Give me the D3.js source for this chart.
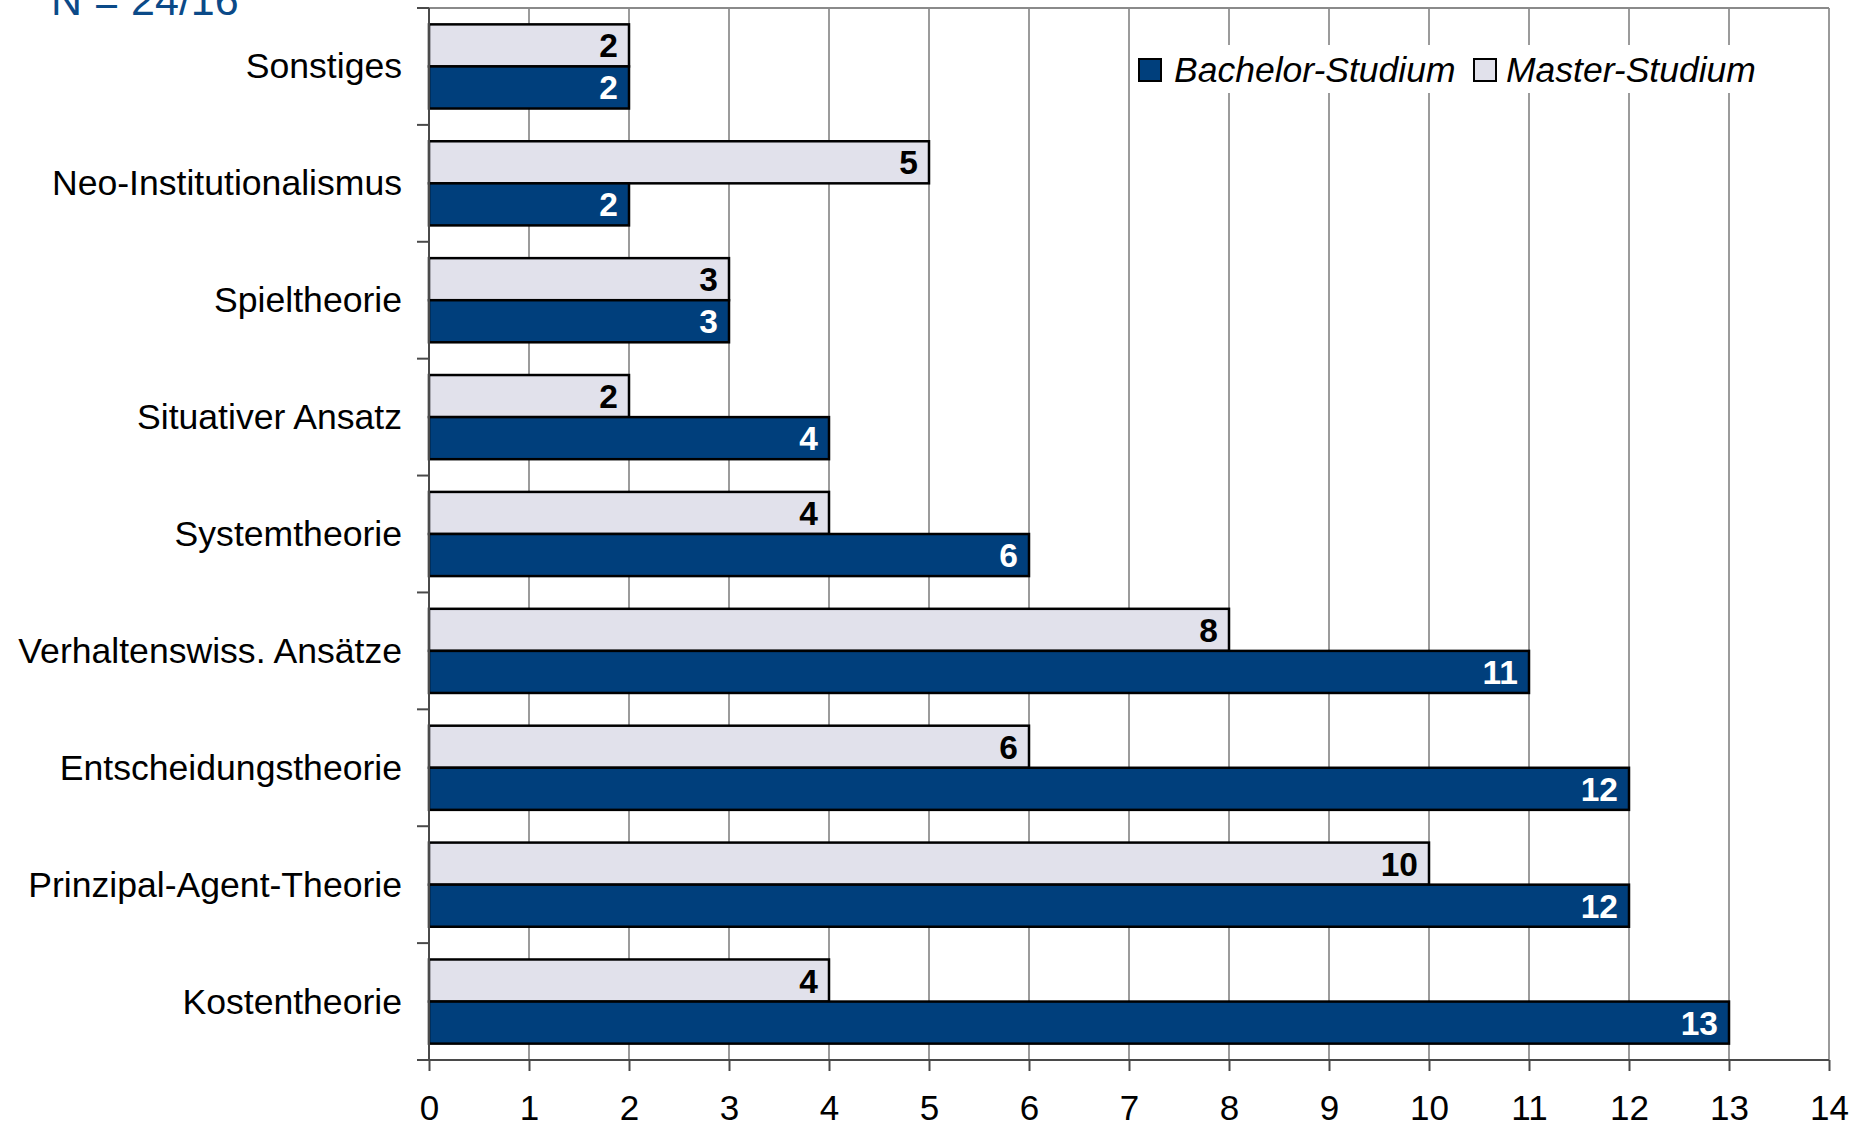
<!DOCTYPE html>
<html>
<head>
<meta charset="utf-8">
<script src="https://cdn.jsdelivr.net/npm/d3@7"></script>
<style>
  html, body { margin: 0; padding: 0; background: #fff; }
  svg { display: block; font-family: "Liberation Sans", Arial, sans-serif; }
</style>
</head>
<body>
<svg id="chart" width="1861" height="1127"></svg>
<script>
// Theories covered in the courses, listed top to bottom
const categories = [
  "Sonstiges",
  "Neo-Institutionalismus",
  "Spieltheorie",
  "Situativer Ansatz",
  "Systemtheorie",
  "Verhaltenswiss. Ansätze",
  "Entscheidungstheorie",
  "Prinzipal-Agent-Theorie",
  "Kostentheorie"
];
const bachelorValues = [2, 2, 3, 4, 6, 11, 12, 12, 13];
const masterValues   = [2, 5, 3, 2, 4, 8, 6, 10, 4];
const seriesNames = ["Bachelor-Studium", "Master-Studium"];
const xTicks = [0, 1, 2, 3, 4, 5, 6, 7, 8, 9, 10, 11, 12, 13, 14];
const sampleLabel = "N = 24/16";

const colors = { "Bachelor-Studium": "#003f7c", "Master-Studium": "#e1e1eb" };
const labelColors = { "Bachelor-Studium": "#ffffff", "Master-Studium": "#000000" };

const rows = categories.map((c, i) => ({
  category: c,
  values: [
    { series: "Master-Studium", value: masterValues[i] },
    { series: "Bachelor-Studium", value: bachelorValues[i] }
  ]
}));

const svg = d3.select("#chart");
const plot = { left: 429, right: 1829, top: 8, bottom: 1060 };

const x = d3.scaleLinear().domain([0, 14]).range([plot.left, plot.right]);
const y = d3.scaleBand().domain(categories).range([plot.top, plot.bottom])
  .paddingInner(0.28).paddingOuter(0.14);
const ySub = d3.scaleBand().domain(["Master-Studium", "Bachelor-Studium"])
  .range([0, y.bandwidth()]);

// vertical gridlines
svg.append("g").selectAll("line")
  .data(xTicks.slice(1))
  .join("line")
  .attr("x1", d => x(d)).attr("x2", d => x(d))
  .attr("y1", plot.top).attr("y2", plot.bottom)
  .attr("stroke", d => d === 14 ? "#9a9a9a" : "#7a7a7a")
  .attr("stroke-width", d => d === 14 ? 2 : 1.5);

// top frame line
svg.append("line")
  .attr("x1", plot.left).attr("x2", plot.right)
  .attr("y1", plot.top).attr("y2", plot.top)
  .attr("stroke", "#8a8a8a").attr("stroke-width", 2);

// legend (white panel over the grid)
const legend = svg.append("g").attr("transform", "translate(1130,45)");
legend.append("rect").attr("x", 0).attr("y", 0).attr("width", 640).attr("height", 48).attr("fill", "#fff");
const legendItems = [
  { name: seriesNames[0], sx: 9, tx: 44 },
  { name: seriesNames[1], sx: 344, tx: 376 }
];
legendItems.forEach(it => {
  legend.append("rect")
    .attr("x", it.sx).attr("y", 14).attr("width", 22).attr("height", 22)
    .attr("fill", colors[it.name]).attr("stroke", "#000").attr("stroke-width", 2);
  legend.append("text")
    .attr("x", it.tx).attr("y", 37)
    .attr("font-size", 35.5).attr("font-style", "italic").attr("fill", "#000")
    .text(it.name);
});

// bars
const groups = svg.append("g").selectAll("g")
  .data(rows)
  .join("g")
  .attr("transform", d => `translate(0,${y(d.category)})`);

groups.selectAll("rect")
  .data(d => d.values)
  .join("rect")
  .attr("x", x(0))
  .attr("y", d => ySub(d.series))
  .attr("width", d => x(d.value) - x(0))
  .attr("height", ySub.bandwidth())
  .attr("fill", d => colors[d.series])
  .attr("stroke", "#000")
  .attr("stroke-width", 2.5);

groups.selectAll("text")
  .data(d => d.values)
  .join("text")
  .attr("x", d => x(d.value) - 11)
  .attr("y", d => ySub(d.series) + ySub.bandwidth() / 2 + 12)
  .attr("text-anchor", "end")
  .attr("font-size", 33.5)
  .attr("font-weight", "bold")
  .attr("fill", d => labelColors[d.series])
  .text(d => d.value);

// y axis
const yAxis = svg.append("g");
yAxis.append("line")
  .attr("x1", plot.left).attr("x2", plot.left)
  .attr("y1", plot.top).attr("y2", plot.bottom)
  .attr("stroke", "#4a4a4a").attr("stroke-width", 2);
const boundaries = d3.range(categories.length + 1).map(i => plot.top + i * y.step());
yAxis.selectAll("line.tick")
  .data(boundaries)
  .join("line")
  .attr("class", "tick")
  .attr("x1", plot.left - 12).attr("x2", plot.left)
  .attr("y1", d => d).attr("y2", d => d)
  .attr("stroke", "#4a4a4a").attr("stroke-width", 2);
yAxis.selectAll("text")
  .data(categories)
  .join("text")
  .attr("x", plot.left - 27)
  .attr("y", d => y(d) + y.bandwidth() / 2 + 12)
  .attr("text-anchor", "end")
  .attr("font-size", 35.6)
  .attr("fill", "#000")
  .text(d => d);

// x axis
const xAxis = d3.axisBottom(x).tickValues(xTicks).tickSize(11).tickPadding(24).tickFormat(d3.format("d"));
const xg = svg.append("g").attr("transform", `translate(0,${plot.bottom})`).call(xAxis);
xg.select(".domain").remove();
xg.selectAll(".tick line").attr("stroke", "#4a4a4a").attr("stroke-width", 2);
xg.selectAll(".tick text").attr("font-size", 35).attr("fill", "#000")
  .attr("font-family", "'Liberation Sans', Arial, sans-serif");
svg.append("line")
  .attr("x1", plot.left - 12).attr("x2", plot.right)
  .attr("y1", plot.bottom).attr("y2", plot.bottom)
  .attr("stroke", "#4a4a4a").attr("stroke-width", 2);

// sample size note (partly cut by the top edge)
svg.append("text")
  .attr("x", 51).attr("y", 15)
  .attr("font-size", 43)
  .attr("fill", "#0b4a88")
  .text(sampleLabel);
</script>
</body>
</html>
